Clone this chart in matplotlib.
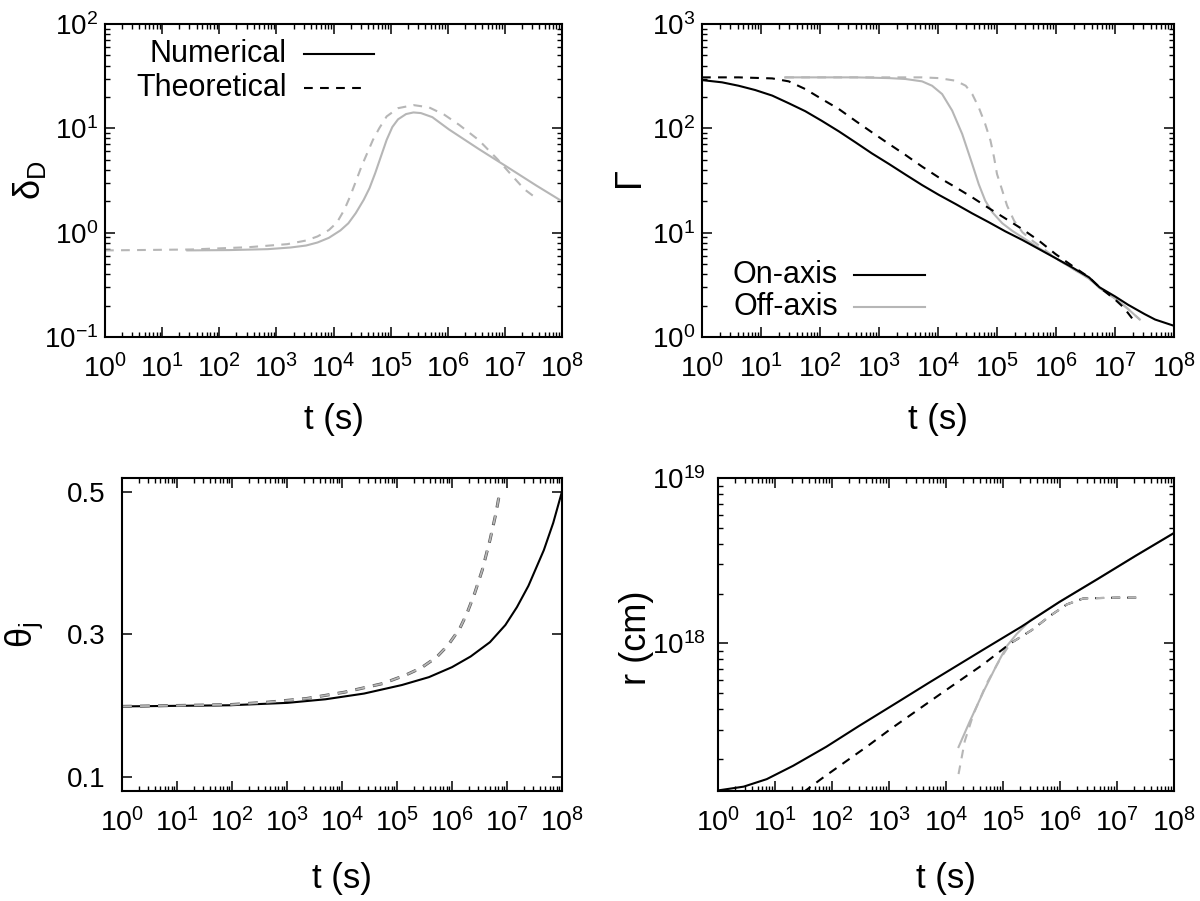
import numpy as np
import matplotlib
matplotlib.use("Agg")
import matplotlib.pyplot as plt
from matplotlib.ticker import FuncFormatter, LogLocator, FixedLocator, NullLocator

NARROW = ["Liberation Sans Narrow", "Liberation Sans", "DejaVu Sans"]
REGULAR = ["Liberation Sans", "DejaVu Sans"]
plt.rcParams["font.family"] = NARROW
plt.rcParams["mathtext.default"] = "regular"

# ---- data (time given as log10 t [s]) ----
# Doppler factor, off-axis jet
dop_num_logt = [1.44, 2.18, 2.85, 3.25, 3.52, 3.72, 3.92, 4.12, 4.26, 4.39, 4.53, 4.63,
                4.73, 4.83, 4.93, 5.03, 5.13, 5.27, 5.40, 5.53, 5.73, 6.02, 6.54, 7.01,
                7.55, 8.0]
dop_num = [0.676, 0.681, 0.695, 0.721, 0.753, 0.805, 0.893, 1.05, 1.23, 1.54, 2.07, 2.67,
           3.72, 5.37, 7.74, 10.3, 12.2, 13.7, 14.2, 14.0, 12.8, 9.77, 6.35, 4.37,
           2.83, 2.0]
dop_th_logt = [0, 1.51, 2.52, 3.19, 3.52, 3.72, 3.92, 4.06, 4.19, 4.29, 4.39, 4.49,
               4.59, 4.69, 4.80, 4.93, 5.13, 5.40, 5.67, 5.94, 6.20, 6.54, 6.87, 7.14,
               7.34, 7.51]
dop_th = [0.676, 0.690, 0.726, 0.776, 0.841, 0.920, 1.06, 1.25, 1.66, 2.22, 3.09, 4.31,
          5.78, 7.74, 10.0, 13.0, 15.6, 16.7, 15.9, 13.5, 10.8, 7.74, 5.06, 3.45,
          2.61, 2.22]

# Lorentz factor
gam_on_num_logt = [0, 0.34, 0.62, 0.90, 1.19, 1.47, 1.75, 2.03, 2.32, 2.60, 2.88, 3.17,
                   3.45, 3.73, 4.01, 4.30, 4.58, 4.86, 5.14, 5.43, 5.71, 5.99, 6.27,
                   6.56, 6.74, 7.0, 7.22, 7.5, 7.68, 8.0]
gam_on_num = [290, 276, 256, 233, 206, 174, 146, 118, 93.5, 73.5, 57.5, 45.5,
              36.0, 28.6, 23.1, 18.8, 15.3, 12.6, 10.3, 8.51, 6.97, 5.71, 4.66,
              3.73, 2.99, 2.45, 2.04, 1.66, 1.47, 1.28]
gam_on_th_logt = [0, 0.62, 1.19, 1.47, 1.75, 2.03, 2.32, 2.60, 2.88, 3.17, 3.45, 3.73,
                  4.01, 4.30, 4.58, 4.86, 5.14, 5.43, 5.71, 5.99, 6.27, 6.56, 6.74,
                  7.0, 7.15, 7.29]
gam_on_th = [308, 308, 301, 282, 238, 191, 153, 118, 91.6, 70.8, 55.5, 43.0,
             33.9, 27.2, 21.8, 17.2, 13.7, 10.8, 8.38, 6.25, 4.83, 3.73, 2.99,
             2.29, 1.91, 1.51]
gam_off_num_logt = [1.41, 2.60, 3.17, 3.45, 3.73, 3.90, 4.07, 4.24, 4.41, 4.58, 4.69,
                    4.80, 4.92, 5.09, 5.26, 5.43, 5.71, 5.99, 6.27, 6.56, 6.74, 7.03,
                    7.22, 7.42]
gam_off_num = [308, 308, 303, 297, 282, 256, 213, 148, 88.3, 45.5, 29.2,
               20.3, 15.7, 12.3, 10.4, 9.02, 7.13, 5.71, 4.57, 3.63, 2.95, 2.28,
               1.86, 1.47]
gam_off_th_logt = [1.41, 3.73, 4.01, 4.30, 4.47, 4.58, 4.69, 4.80, 4.89, 4.95, 5.00,
                   5.09, 5.17, 5.29, 5.43, 5.60, 5.77, 5.99, 6.27, 6.56, 6.74, 7.03,
                   7.22, 7.42]
gam_off_th = [308, 308, 303, 286, 256, 213, 159, 110, 76.2, 52.7, 36.5,
              25.3, 18.2, 13.0, 10.1, 8.38, 7.13, 5.71, 4.57, 3.63, 2.95, 2.28,
              1.86, 1.47]

# jet half-opening angle
theta_num_logt = [0, 1.96, 3.01, 3.70, 4.40, 5.09, 5.58, 6.0, 6.34, 6.69, 6.97, 7.18,
                  7.39, 7.67, 7.84, 8.0]
theta_num = [0.199, 0.2006, 0.204, 0.209, 0.217, 0.229, 0.240, 0.254, 0.269, 0.289,
             0.313, 0.338, 0.368, 0.418, 0.456, 0.5]
theta_th_logt = [0, 1.96, 2.66, 3.35, 4.05, 4.74, 5.16, 5.44, 5.72, 5.93, 6.14, 6.27,
                 6.41, 6.55, 6.69, 6.80, 6.87]
theta_th = [0.199, 0.2015, 0.205, 0.21, 0.219, 0.231, 0.243, 0.253, 0.268, 0.285,
            0.308, 0.329, 0.357, 0.390, 0.432, 0.470, 0.5]

# radius
r_on_num_logt = [0, 0.45, 0.855, 1.32, 1.90, 2.47, 3.17, 3.69, 4.64, 5.32, 5.99, 6.66,
                 7.33, 8.0]
r_on_num = [1.29e17, 1.36e17, 1.51e17, 1.82e17, 2.37e17, 3.16e17, 4.45e17, 5.75e17,
            9.1e17, 1.26e18, 1.78e18, 2.45e18, 3.39e18, 4.65e18]
r_on_th_logt = [1.5, 1.84, 2.63, 3.02, 3.97, 4.64, 5.13, 5.5, 5.83, 6.12, 6.41, 7.0, 7.35]
r_on_th = [1.26e17, 1.54e17, 2.40e17, 3.02e17, 5.13e17, 7.41e17, 1.0e18, 1.20e18,
           1.47e18, 1.72e18, 1.87e18, 1.89e18, 1.89e18]
r_off_num_logt = [4.22, 4.42, 4.66, 4.89, 5.07, 5.24, 5.48, 5.60, 5.99, 6.66, 7.33, 8.0]
r_off_num = [2.36e17, 3.39e17, 5.13e17, 7.41e17, 9.66e17, 1.14e18, 1.38e18, 1.46e18,
             1.78e18, 2.45e18, 3.39e18, 4.65e18]
r_off_th_logt = [4.22, 4.33, 4.48, 4.71, 4.95, 5.13, 5.5, 5.83, 6.12, 6.41, 7.0, 7.35]
r_off_th = [1.62e17, 2.57e17, 3.72e17, 5.69e17, 8.04e17, 1.0e18, 1.20e18, 1.47e18,
            1.72e18, 1.87e18, 1.89e18, 1.89e18]

GREY = "#b6b6b6"
LW = 1.5
DASH = (0, (4.2, 3.5))

W, H = 1200, 901
fig = plt.figure(figsize=(W / 100, H / 100), dpi=100)


def px_axes(l, t, r, b):
    return fig.add_axes([l / W, 1 - b / H, (r - l) / W, (b - t) / H])


def t_of(logt):
    return 10.0 ** np.asarray(logt)


pow_fmt = FuncFormatter(lambda v, _: r"$10^{%d}$" % round(np.log10(v)))


def style(ax, ylog=True, ypad=5):
    ax.set_xscale("log")
    ax.set_xlim(1, 1e8)
    ax.xaxis.set_major_locator(LogLocator(base=10, numticks=20))
    ax.xaxis.set_minor_locator(LogLocator(base=10, subs=np.arange(2, 10), numticks=20))
    ax.xaxis.set_major_formatter(pow_fmt)
    if ylog:
        ax.set_yscale("log")
        ax.yaxis.set_major_locator(LogLocator(base=10, numticks=20))
        ax.yaxis.set_minor_locator(LogLocator(base=10, subs=np.arange(2, 10), numticks=20))
        ax.yaxis.set_major_formatter(pow_fmt)
    ax.tick_params(which="both", direction="in", top=True, right=True)
    ax.tick_params(which="major", length=7, width=1.1)
    ax.tick_params(which="minor", length=3.6, width=1.0)
    ax.tick_params(axis="x", which="major", pad=12, labelsize=20.5)
    ax.tick_params(axis="y", which="major", pad=ypad, labelsize=20)
    for lab in ax.get_yticklabels():
        lab.set_family(REGULAR)
    for s in ax.spines.values():
        s.set_linewidth(1.5)
    ax.set_xlabel("t (s)", fontsize=25)
    ax.xaxis.label.set_va("center")


def ylab(ax, text, xfrac, yfrac=0.5):
    ax.set_ylabel(text, fontsize=26, family=REGULAR)
    ax.yaxis.label.set_va("center")
    ax.yaxis.set_label_coords(xfrac, yfrac)


def legend_row(ax, xt, x0, x1, y, label, **line_kw):
    ax.text(xt, y, label, transform=ax.transAxes, ha="right", va="center", fontsize=22)
    ax.plot([x0, x1], [y, y], transform=ax.transAxes, lw=LW, **line_kw)


# ---- delta_D ----
ax1 = px_axes(105, 24, 562, 337)
ax1.plot(t_of(dop_th_logt), dop_th, color=GREY, lw=LW, ls=DASH)
ax1.plot(t_of(dop_num_logt), dop_num, color=GREY, lw=LW)
ax1.set_ylim(0.1, 100)
style(ax1)
ylab(ax1, r"$\delta_D$", -0.165)
ax1.xaxis.set_label_coords(0.5, -0.262)
legend_row(ax1, 0.398, 0.436, 0.589, 0.904, "Numerical", color="black")
legend_row(ax1, 0.398, 0.436, 0.575, 0.796, "Theoretical", color="black", ls=DASH)

# ---- Gamma ----
ax2 = px_axes(702, 24, 1174, 337)
ax2.plot(t_of(gam_off_th_logt), gam_off_th, color=GREY, lw=LW, ls=DASH)
ax2.plot(t_of(gam_off_num_logt), gam_off_num, color=GREY, lw=LW)
ax2.plot(t_of(gam_on_th_logt), gam_on_th, color="black", lw=LW, ls=DASH)
ax2.plot(t_of(gam_on_num_logt), gam_on_num, color="black", lw=LW)
ax2.set_ylim(1, 1000)
style(ax2)
ylab(ax2, r"$\Gamma$", -0.147)
ax2.xaxis.set_label_coords(0.5, -0.262)
legend_row(ax2, 0.288, 0.322, 0.473, 0.197, "On-axis", color="black")
legend_row(ax2, 0.288, 0.322, 0.473, 0.096, "Off-axis", color=GREY)

# ---- theta_j ----
ax3 = px_axes(122, 478, 562, 791)
ax3.plot(t_of(theta_num_logt), theta_num, color="black", lw=LW)
ax3.plot(t_of(theta_th_logt), theta_th, color="#555555", lw=2.2, ls=(0, (3.2, 2.7)))
ax3.plot(t_of(theta_th_logt), theta_th, color=GREY, lw=1.3, ls=(0, (5.4, 4.6)))
ax3.set_ylim(0.0805, 0.519)
ax3.yaxis.set_major_locator(FixedLocator([0.1, 0.3, 0.5]))
ax3.yaxis.set_minor_locator(NullLocator())
style(ax3, ylog=False, ypad=12)
ylab(ax3, r"$\theta_j$", -0.221)
ax3.xaxis.set_label_coords(0.5, -0.278)

# ---- radius ----
ax4 = px_axes(718, 478, 1174, 791)
ax4.plot(t_of(r_off_num_logt), r_off_num, color=GREY, lw=LW)
ax4.plot(t_of(r_on_th_logt), r_on_th, color="black", lw=LW, ls=DASH)
ax4.plot(t_of(r_off_th_logt), r_off_th, color=GREY, lw=LW, ls=DASH)
ax4.plot(t_of(r_on_num_logt), r_on_num, color="black", lw=LW)
ax4.set_ylim(1.28e17, 1e19)
style(ax4, ypad=9)
ylab(ax4, "r (cm)", -0.178, 0.49)
ax4.xaxis.set_label_coords(0.5, -0.278)

fig.savefig("out.png", dpi=100)
